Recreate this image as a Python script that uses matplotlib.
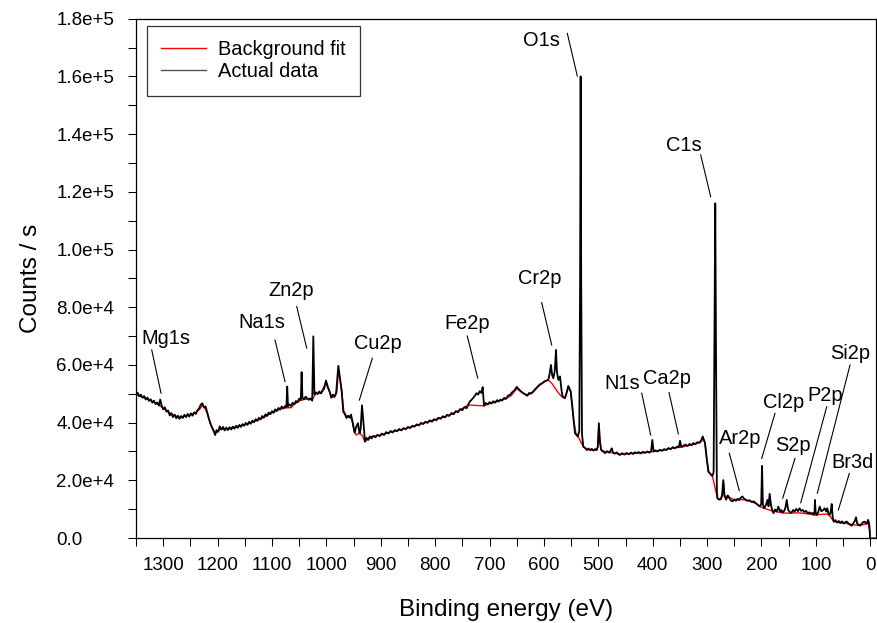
import numpy as np
import matplotlib
matplotlib.use("Agg")
from matplotlib import pyplot as plt
from matplotlib.ticker import FuncFormatter, MultipleLocator

plt.rcParams['font.family'] = ['Liberation Sans', 'DejaVu Sans']

#
# XPS survey: (binding energy eV, counts/s), high to low energy
#
spectrum = [
    (1350, 49800), (1347, 50400), (1344, 49100), (1341, 49700), (1338, 48600),
    (1335, 49200), (1332, 48000), (1329, 48700), (1326, 47500), (1323, 48100),
    (1320, 46900), (1317, 47600), (1314, 46400), (1311, 47000), (1308, 45900),
    (1305.5, 48000), (1303, 46000), (1300, 44600), (1297, 45300), (1294, 43800),
    (1291, 44200), (1288, 42500), (1285, 43300), (1282, 41900), (1279, 42800),
    (1276, 41500), (1273, 42400), (1270, 41300), (1267, 42300), (1264, 41600),
    (1261, 42700), (1258, 41900), (1255, 43000), (1252, 42100), (1249, 43200),
    (1246, 42400), (1243, 43600), (1240, 43000), (1237, 44300), (1234, 44900),
    (1231, 46200), (1228, 46700), (1225, 45200), (1222, 45600), (1219, 43400),
    (1216, 41300), (1213, 39600), (1210, 38200), (1207, 37000), (1204.5, 35700),
    (1202, 37400), (1199, 36800), (1196, 38700), (1193, 37600), (1190, 38500),
    (1187, 37300), (1184, 38300), (1181, 37400), (1178, 38400), (1175, 37600),
    (1172, 38600), (1169, 37900), (1166, 38900), (1163, 38200), (1160, 39200),
    (1157, 38500), (1154, 39500), (1151, 38900), (1148, 39900), (1145, 39200),
    (1142, 40300), (1139, 39600), (1136, 40700), (1133, 40100), (1130, 41200),
    (1127, 40600), (1124, 41700), (1121, 41100), (1118, 42300), (1115, 41700),
    (1112, 42900), (1109, 42300), (1106, 43500), (1103, 42900), (1100, 44000),
    (1097, 43400), (1094, 44600), (1091, 44000), (1088, 45100), (1085, 44500),
    (1082, 45600), (1079, 44900), (1076, 45700), (1073.5, 45300), (1072, 52500),
    (1070.5, 45600), (1068, 46300), (1065, 45800), (1062, 46900), (1059, 46300),
    (1056, 47500), (1053, 47000), (1050, 48300), (1047, 47900), (1045.5, 57500),
    (1044, 48600), (1041, 48100), (1038, 49000), (1035, 48300), (1032, 47900),
    (1029, 48400), (1026, 47600), (1024, 69900), (1022, 49800), (1019, 50500),
    (1016, 49900), (1013, 50800), (1010, 50100), (1007, 51000), (1004, 51800),
    (1000.7, 54600), (997, 52200), (994, 50800), (991, 48600), (988, 49700),
    (985, 48900), (982, 50400), (980, 55000), (978, 59700), (975, 55600),
    (972, 51300), (969, 43800), (966, 42900), (963, 41600), (960, 42400),
    (957, 41800), (954.7, 42800), (951, 39500), (948, 36500), (945, 38600),
    (942, 39800), (939, 36300), (937, 37800), (934.5, 46000), (932, 40500),
    (929, 33400), (926, 34700), (923, 34000), (920, 35200), (917, 34500),
    (914, 35400), (910, 34900), (906, 35800), (902, 35300), (898, 36200),
    (894, 35700), (890, 36700), (886, 36200), (882, 37100), (878, 36600),
    (874, 37400), (870, 37000), (866, 37800), (862, 37300), (858, 38100),
    (854, 37700), (850, 38500), (846, 38100), (842, 38900), (838, 38600),
    (834, 39400), (830, 39000), (826, 39900), (822, 39500), (818, 40300),
    (814, 39900), (810, 40800), (806, 40300), (802, 41200), (798, 40800),
    (794, 41700), (790, 41300), (786, 42200), (782, 41800), (778, 42700),
    (774, 42300), (770, 43300), (766, 42900), (762, 44000), (758, 43600),
    (754, 44700), (750, 44300), (746, 45400), (742, 45000), (739, 46300),
    (736, 47400), (733, 47900), (730, 48600), (727, 49300), (724, 50200),
    (721, 49700), (718, 50900), (715, 50300), (712.6, 52300), (710.2, 45900),
    (707, 46800), (703, 46300), (700, 47100), (697, 46600), (693, 47400),
    (690, 46900), (686, 47800), (683, 47300), (680, 48000), (677, 47600),
    (673, 48600), (670, 48200), (666, 49300), (662, 49700), (658, 50600),
    (654, 51200), (650, 52400), (646, 51500), (642, 50800), (638, 50200),
    (634, 49800), (631, 49300), (627, 50300), (623, 50100), (619.5, 50900),
    (615, 51800), (611, 52600), (607, 53300), (603, 53700), (599, 54300),
    (595, 54600), (592, 54900), (590, 56500), (587, 60000), (585, 56500),
    (582.7, 55400), (580, 58000), (577.8, 65200), (576, 57500), (573.5, 54800),
    (570.4, 56000), (567.5, 51000), (565.5, 49000), (561.3, 48500), (558, 50500),
    (555.2, 52700), (552.5, 51500), (550.8, 50800), (548, 46000), (545.5, 41000),
    (542.9, 36300), (540.5, 35800), (538, 35200), (535, 37000), (533.5, 90000),
    (532.5, 160000), (531.5, 90000), (530, 36000), (527.6, 31700), (524, 31100),
    (521, 30500), (518, 31000), (515.3, 30500), (512, 30900), (509, 30300),
    (506, 30800), (503, 30500), (501, 31500), (499, 39800), (497, 33500),
    (495, 30700), (493.8, 30300), (490.5, 29900), (487.7, 29400), (484, 30100),
    (480, 29600), (477, 30400), (475.4, 31100), (473, 29700), (470, 29200),
    (466, 29700), (463, 29000), (460, 28800), (456, 29400), (452, 28900),
    (448, 29500), (444, 29000), (440, 29600), (436, 29100), (433, 29700),
    (429.4, 29400), (426, 29800), (422, 29300), (418, 29900), (414, 29500),
    (410, 30000), (406, 29600), (403, 30100), (400.7, 34000), (398.5, 30000),
    (395, 30400), (391, 30000), (387, 30600), (383, 30200), (379, 30800),
    (375, 30500), (371, 31200), (367, 30800), (363, 31500), (359, 31100),
    (355, 31700), (352, 31400), (349.8, 33700), (347.5, 31600), (344, 31900),
    (340, 32400), (336, 31900), (332, 32600), (328, 32200), (325.3, 32900),
    (322, 32500), (318, 33200), (314, 33000), (311, 33800), (308.1, 35200),
    (305.5, 33800), (303.8, 32900), (301, 28000), (297.7, 23000), (294, 22200),
    (290.3, 21500), (288, 22800), (286.5, 70000), (285, 116000), (283.5, 60000),
    (282, 16000), (281, 13800), (278, 13300), (275, 13500), (272.5, 14800),
    (270.2, 20100), (268, 14600), (265, 13300), (262, 14800), (259, 13800),
    (256, 13000), (253, 12700), (250, 13400), (247, 12900), (244, 13600),
    (241, 13200), (238, 14000), (235, 14400), (232, 13600), (229, 13300),
    (226, 12900), (222, 13100), (218, 12500), (214, 12700), (210, 12000),
    (206, 11400), (203, 11000), (200.5, 11800), (199, 25000), (197.5, 11600),
    (195, 10300), (192, 11400), (189, 13200), (187, 11000), (185, 15300),
    (182.5, 11400), (180, 9500), (178, 8600), (175, 9900), (172, 9200),
    (169, 10900), (166, 9200), (163.5, 9700), (161, 8800), (158, 9500),
    (156, 10500), (153.6, 13200), (151, 9800), (148, 9000), (145, 8700),
    (142, 9700), (139, 9200), (136, 10100), (133, 9300), (130, 10300),
    (127, 9400), (124, 9700), (121, 9000), (118, 9400), (115, 8600),
    (112, 8900), (109, 8400), (106, 8700), (103.5, 8000), (102.5, 9000),
    (101.7, 13200), (100.5, 9000), (98.6, 8000), (96, 8800), (93, 10900),
    (90, 9300), (87, 9600), (84, 10300), (81, 9200), (79, 10300),
    (77, 8500), (75, 8000), (73, 8800), (70.9, 11800), (69, 7000),
    (67, 5700), (64, 6200), (61, 5400), (58, 5900), (55, 5200),
    (52, 5800), (49, 5000), (46, 5500), (43, 5700), (40, 5000),
    (37, 4600), (34, 4300), (31, 5200), (28.5, 5900), (26.2, 7200),
    (24, 5000), (21, 4600), (19, 4300), (16, 4900), (13, 5500),
    (10, 5700), (8, 5000), (6, 5200), (4, 6300), (2, 5000),
    (1, 2500), (0.5, 0),
]

# fitted background under the peaks
background = [
    (1350, 49600), (1330, 48300), (1310, 46400), (1300, 45000), (1290, 43600),
    (1280, 42400), (1270, 41900), (1260, 42200), (1250, 42700), (1240, 43400),
    (1232, 44800), (1228, 46000), (1224, 45300), (1219, 43300), (1213, 39600),
    (1207, 37100), (1204.5, 36200), (1195, 37700), (1180, 37900), (1160, 38800),
    (1140, 39900), (1120, 41300), (1100, 43400), (1085, 44700), (1075, 45100),
    (1064, 45200), (1060, 46300), (1050, 47500), (1040, 48100), (1030, 48300),
    (1026, 47900), (1020, 49900), (1010, 50300), (1001, 53800), (995, 51000),
    (990, 48800), (985, 49000), (981, 50300), (978, 57500), (975, 55000),
    (971, 49500), (968, 44000), (962, 42000), (957, 41800), (953, 41000),
    (949, 37000), (945, 35700), (939, 36300), (934, 35500), (929, 33400),
    (920, 35000), (900, 35700), (880, 36800), (860, 37700), (840, 38700),
    (820, 39900), (800, 41000), (780, 42200), (760, 43800), (739, 46100),
    (710.2, 45800), (700, 46700), (690, 47000), (680, 47800), (670, 48300),
    (660, 49400), (650, 51800), (640, 50400), (631, 49400), (620, 50500),
    (610, 52600), (600, 54000), (592, 54800), (585, 53500), (578, 51500),
    (572, 50000), (566, 48800), (561.3, 48400), (555.2, 52400), (550.8, 50600),
    (545.5, 41000), (541, 36200), (538, 35500), (527.6, 31600), (515, 30400),
    (505, 30500), (501, 31500), (499, 39000), (497, 33000), (494, 30400),
    (485, 29800), (470, 29400), (455, 29000), (440, 29300), (420, 29500),
    (404, 29900), (397, 30000), (380, 30500), (360, 31200), (352, 31500),
    (347, 31500), (335, 32000), (320, 32700), (310, 33500), (308, 35000),
    (304, 33000), (300, 26500), (297, 23000), (290, 21300), (281, 13800),
    (275, 13300), (272, 14500), (270, 19500), (268, 14500), (262, 14400),
    (250, 13200), (240, 13300), (230, 13200), (220, 12700), (210, 11900),
    (203, 10900), (195, 10300), (180, 9400), (170, 9000), (160, 8700),
    (150, 8600), (140, 8700), (130, 8700), (120, 8500), (110, 8200),
    (100, 8000), (90, 8200), (80, 8300), (75, 7800), (70, 6500),
    (67, 5700), (60, 5400), (50, 5200), (40, 4900), (30, 4600),
    (20, 4300), (10, 4800), (4, 5000), (1, 2500), (0.5, 0), (-10.5, 0),
]

# peak labels: text (eV, cps), leader line from / to (eV, cps)
peak_labels = [
    ("Mg1s", (1295.2, 67100), (1321.1, 65200), (1304.0, 50200)),
    ("Na1s", (1118.9, 72900), (1094.4, 68600), (1076.0, 54200)),
    ("Zn2p", (1064.1, 83900), (1054.5, 80200), (1036.1, 65800)),
    ("Cu2p", (904.5, 65400), (915.5, 62300), (939.4, 47800)),
    ("Fe2p", (742.0, 72300), (740.9, 70000), (721.8, 55400)),
    ("Cr2p", (608.7, 87900), (604.1, 81600), (585.7, 66900)),
    ("O1s", (604.8, 170500), (557.0, 174900), (538.6, 160100)),
    ("C1s", (343.7, 134100), (311.8, 132800), (293.4, 118300)),
    ("N1s", (455.5, 51500), (420.2, 50200), (403.7, 35700)),
    ("Ca2p", (374.2, 53300), (370.0, 50400), (352.9, 36100)),
    ("Ar2p", (239.1, 32500), (259.2, 29400), (240.8, 16400)),
    ("Cl2p", (159.9, 45200), (175.2, 43200), (199.6, 27600)),
    ("S2p", (143.0, 30200), (138.4, 27600), (161.0, 13800)),
    ("P2p", (83.2, 47500), (80.1, 45500), (127.9, 12200)),
    ("Si2p", (36.7, 61900), (37.2, 60000), (97.4, 15500)),
    ("Br3d", (32.7, 24400), (38.5, 22400), (58.7, 9700)),
]


def sci_label(val, pos):
    if val == 0:
        return "0.0"
    exp = int(np.floor(np.log10(abs(val))))
    return "{:.1f}e+{}".format(val / 10**exp, exp)


be, cps = np.array(spectrum).T
be_bg, cps_bg = np.array(background).T

fig = plt.figure(figsize=(8.78, 6.23), dpi=100)
ax = fig.add_axes([0.1549, 0.1364, 0.8428, 0.8336])

ax.plot(be_bg, cps_bg, color='red', lw=1.0, label='Background fit')
ax.plot(be, cps, color='black', lw=1.3, label='Actual data')

for name, txt, p0, p1 in peak_labels:
    ax.text(txt[0], txt[1], name, ha='center', va='baseline', fontsize=14.4)
    ax.plot([p0[0], p1[0]], [p0[1], p1[1]], color='black', lw=0.8)

ax.set_xlim(1350, -10.5)
ax.set_ylim(0, 1.8e5)
ax.xaxis.set_major_locator(MultipleLocator(100))
ax.xaxis.set_minor_locator(MultipleLocator(50))
ax.yaxis.set_major_locator(MultipleLocator(2e4))
ax.yaxis.set_minor_locator(MultipleLocator(1e4))
ax.yaxis.set_major_formatter(FuncFormatter(sci_label))

ax.tick_params(which='both', direction='out', length=5.5, width=0.75,
               colors='black')
ax.tick_params(axis='x', which='major', labelsize=13.5, pad=8)
ax.tick_params(axis='y', which='major', labelsize=13.5, pad=52)
for lab in ax.get_yticklabels():
    lab.set_horizontalalignment('left')
for side in ['top', 'right', 'bottom', 'left']:
    ax.spines[side].set_linewidth(0.9)

ax.set_xlabel('Binding energy (eV)', fontsize=17.5, labelpad=18)
ax.set_ylabel('Counts / s', fontsize=17.5)
ax.yaxis.set_label_coords(-0.127, 0.5)

leg = ax.legend(loc='upper left', bbox_to_anchor=(0.0145, 0.9865),
                borderaxespad=0, fontsize=14.4, frameon=True, fancybox=False,
                handlelength=2.25, handletextpad=0.6, borderpad=0.72,
                labelspacing=0.15)
leg.get_frame().set_edgecolor('black')
leg.get_frame().set_linewidth(0.9)
leg.get_lines()[1].set_color('#555555')
leg.get_lines()[1].set_linewidth(1.0)

fig.savefig('out.png', dpi=100)
